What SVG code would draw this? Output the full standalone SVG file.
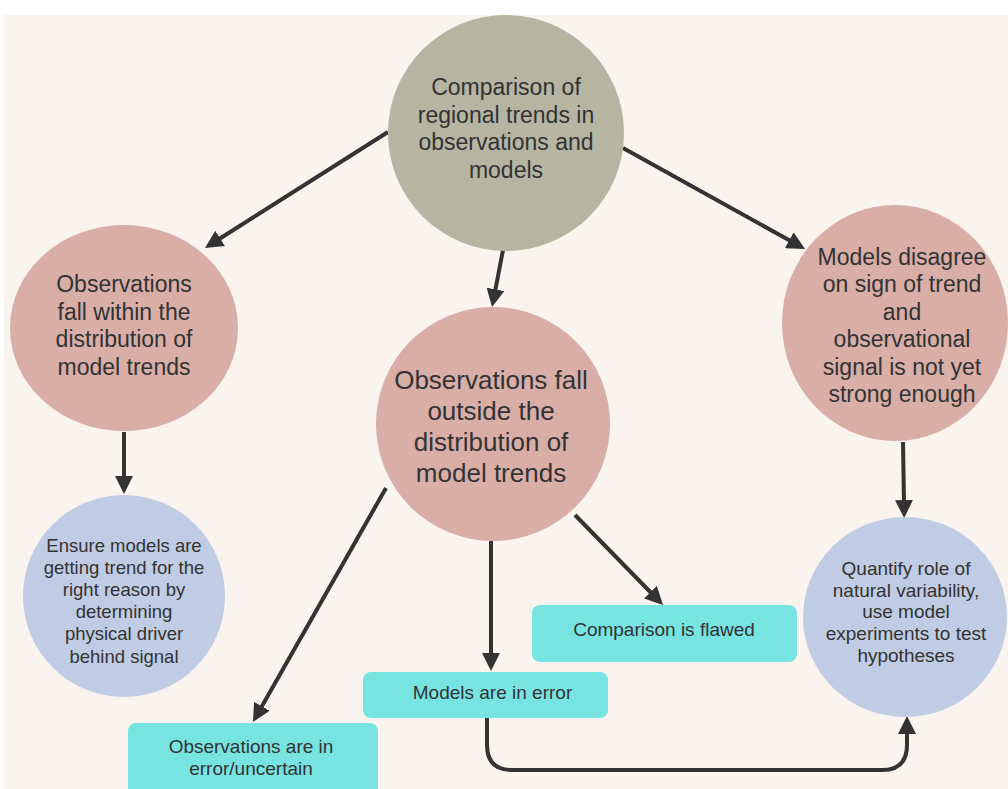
<svg xmlns="http://www.w3.org/2000/svg" width="1008" height="789" viewBox="0 0 1008 789">
<style>
.t{font-family:"Liberation Sans",Arial,sans-serif;fill:#333;text-anchor:middle}
.red{fill:#d8aea6}
.blue{fill:#bfcce3}
.box{fill:#77e4e2}
.con{stroke:#333;stroke-width:4;fill:none}
</style>
<defs>
<marker id="ah" markerUnits="userSpaceOnUse" markerWidth="18" markerHeight="18" viewBox="0 0 18 18" refX="4" refY="9" orient="auto">
<path d="M0,0 L18,9 L0,18 z" fill="#333"/>
</marker>
</defs>
<rect width="1008" height="789" fill="#ffffff"/>
<rect x="4" y="15" width="1004" height="774" fill="#faf4ee"/>
<g id="connectors">
<line class="con" x1="388" y1="132" x2="216.8" y2="240.5" marker-end="url(#ah)"/>
<line class="con" x1="503" y1="250" x2="494.7" y2="293.3" marker-end="url(#ah)"/>
<line class="con" x1="623" y1="148" x2="792.8" y2="242.2" marker-end="url(#ah)"/>
<line class="con" x1="124" y1="432" x2="124" y2="480" marker-end="url(#ah)"/>
<line class="con" x1="903" y1="442" x2="904" y2="504" marker-end="url(#ah)"/>
<line class="con" x1="386" y1="488" x2="259.9" y2="709.8" marker-end="url(#ah)"/>
<line class="con" x1="491" y1="541" x2="491" y2="657" marker-end="url(#ah)"/>
<line class="con" x1="575" y1="515" x2="653.2" y2="595" marker-end="url(#ah)"/>
<path class="con" d="M487,718 V745 Q487,770 512,770 H882 Q907,770 907,745 V730" marker-end="url(#ah)"/>
</g>
<g id="n-top">
<ellipse cx="506" cy="133" rx="118" ry="118" fill="#b5b5a1"/>
<text class="t" font-size="23"><tspan x="506" y="95">Comparison of</tspan><tspan x="506" y="122.5">regional trends in</tspan><tspan x="506" y="150">observations and</tspan><tspan x="506" y="177.5">models</tspan></text>
</g>
<g id="n-within">
<ellipse class="red" cx="124" cy="328" rx="114" ry="103"/>
<text class="t" font-size="23"><tspan x="124" y="292">Observations</tspan><tspan x="124" y="319.7">fall within the</tspan><tspan x="124" y="347.3">distribution of</tspan><tspan x="124" y="375">model trends</tspan></text>
</g>
<g id="n-outside">
<ellipse class="red" cx="493" cy="424" rx="117" ry="117"/>
<text class="t" font-size="26"><tspan x="491" y="389">Observations fall</tspan><tspan x="491" y="420">outside the</tspan><tspan x="491" y="451">distribution of</tspan><tspan x="491" y="482">model trends</tspan></text>
</g>
<g id="n-disagree">
<ellipse class="red" cx="895" cy="323" rx="113" ry="118"/>
<text class="t" font-size="23"><tspan x="902" y="265">Models disagree</tspan><tspan x="902" y="292.4">on sign of trend</tspan><tspan x="902" y="319.8">and</tspan><tspan x="902" y="347.2">observational</tspan><tspan x="902" y="374.6">signal is not yet</tspan><tspan x="902" y="402">strong enough</tspan></text>
</g>
<g id="n-ensure">
<ellipse class="blue" cx="124" cy="596" rx="101" ry="101"/>
<text class="t" font-size="18.5"><tspan x="124" y="552">Ensure models are</tspan><tspan x="124" y="574.1">getting trend for the</tspan><tspan x="124" y="596.2">right reason by</tspan><tspan x="124" y="618.3">determining</tspan><tspan x="124" y="640.4">physical driver</tspan><tspan x="124" y="662.5">behind signal</tspan></text>
</g>
<g id="n-quantify">
<ellipse class="blue" cx="905" cy="617" rx="102" ry="100"/>
<text class="t" font-size="19"><tspan x="906" y="575">Quantify role of</tspan><tspan x="906" y="596.7">natural variability,</tspan><tspan x="906" y="618.4">use model</tspan><tspan x="906" y="640.1">experiments to test</tspan><tspan x="906" y="661.8">hypotheses</tspan></text>
</g>
<g id="n-obs-error">
<rect class="box" x="128" y="723" width="250" height="75" rx="8"/>
<text class="t" font-size="19"><tspan x="251" y="752.7">Observations are in</tspan><tspan x="251" y="775">error/uncertain</tspan></text>
</g>
<g id="n-models-error">
<rect class="box" x="363" y="672" width="245" height="46" rx="8"/>
<text class="t" font-size="19" x="492.5" y="699.3">Models are in error</text>
</g>
<g id="n-flawed">
<rect class="box" x="532" y="605" width="265" height="57" rx="8"/>
<text class="t" font-size="19" x="664" y="636">Comparison is flawed</text>
</g>
</svg>
